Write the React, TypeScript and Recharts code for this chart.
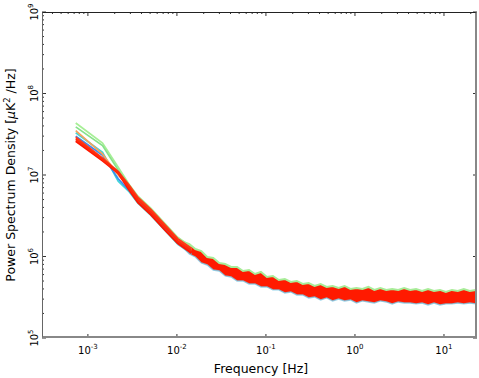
import React from 'react'
import { ComposedChart, Line, Area, XAxis, YAxis, Label } from 'recharts'

// frequencies of the low-frequency points (Hz)
const lineFreqs = [0.00073, 0.00146, 0.00219, 0.00292, 0.00365, 0.00511, 0.0073, 0.0102, 0.0146]

// individual spectra at low frequency (uK^2/Hz)
const lightGreen = [4.35e7, 2.47e7, 1.25e7, 7.6e6, 5.5e6, 3.9e6, 2.55e6, 1.72e6, 1.3e6]
const green = [3.9e7, 2.3e7, 1.15e7, 7.2e6, 5.2e6, 3.7e6, 2.45e6, 1.65e6, 1.25e6]
const cyan = [3.3e7, 1.9e7, 8.4e6, 6.2e6, 4.5e6, 3.2e6, 2.1e6, 1.42e6, 1.08e6]
const blue = [3.0e7, 1.75e7, 9.0e6, 6.4e6, 4.7e6, 3.35e6, 2.2e6, 1.47e6, 1.1e6]
const orange = [3.5e7, 1.8e7, 1.0e7, 7.0e6, 5.1e6, 3.6e6, 2.35e6, 1.6e6, 1.2e6]
const red1 = [2.9e7, 1.6e7, 1.1e7, 7.4e6, 5.3e6, 3.75e6, 2.45e6, 1.65e6, 1.25e6]
const red2 = [2.6e7, 1.5e7, 1.05e7, 6.5e6, 4.6e6, 3.25e6, 2.12e6, 1.45e6, 1.1e6]
const red3 = [2.75e7, 1.55e7, 1.08e7, 6.9e6, 4.95e6, 3.5e6, 2.3e6, 1.55e6, 1.18e6]

// noisy band at higher frequencies
const bandFreqs = [
  0.01013, 0.01183, 0.0138, 0.0161, 0.0188, 0.0219, 0.0256, 0.0299, 0.0348, 0.0406,
  0.0474, 0.0553, 0.0646, 0.0754, 0.0879, 0.1026, 0.1197, 0.1396, 0.163, 0.19,
  0.222, 0.259, 0.302, 0.352, 0.412, 0.481, 0.561, 0.655, 0.764, 0.891,
  1.04, 1.213, 1.416, 1.652, 1.928, 2.25, 2.62, 3.06, 3.57, 4.17,
  4.86, 5.68, 6.62, 7.73, 9.02, 10.5, 12.3, 14.3, 16.7, 19.5, 22.8,
]
const bandHigh = [
  1.7e6, 1.506e6, 1.423e6, 1.236e6, 1.168e6, 9.86e5, 9.59e5, 8.32e5, 8.09e5, 7.44e5,
  7.44e5, 6.64e5, 6.83e5, 6.10e5, 6.46e5, 5.61e5, 5.77e5, 5.15e5, 5.30e5, 4.87e5,
  5.01e5, 4.60e5, 4.73e5, 4.35e5, 4.60e5, 4.23e5, 4.35e5, 4.11e5, 4.35e5, 4.00e5,
  4.11e5, 4.00e5, 4.23e5, 3.89e5, 4.11e5, 3.89e5, 4.00e5, 3.89e5, 4.11e5, 3.89e5,
  4.00e5, 3.78e5, 4.00e5, 3.78e5, 3.89e5, 3.67e5, 3.89e5, 3.78e5, 4.00e5, 3.78e5, 3.89e5,
]
const bandLow = [
  1.42e6, 1.271e6, 1.073e6, 9.86e5, 8.32e5, 7.87e5, 6.83e5, 6.64e5, 5.77e5, 5.61e5,
  5.01e5, 5.01e5, 4.60e5, 4.60e5, 4.23e5, 4.23e5, 3.89e5, 3.89e5, 3.57e5, 3.67e5,
  3.37e5, 3.37e5, 3.10e5, 3.19e5, 2.93e5, 3.10e5, 2.85e5, 3.01e5, 2.85e5, 2.93e5,
  2.69e5, 2.85e5, 2.77e5, 2.69e5, 2.85e5, 2.77e5, 2.62e5, 2.77e5, 2.69e5, 2.69e5,
  2.62e5, 2.69e5, 2.54e5, 2.69e5, 2.54e5, 2.62e5, 2.62e5, 2.69e5, 2.62e5, 2.69e5, 2.62e5,
]

const xDecades = [-3, -2, -1, 0, 1]
const yDecades = [5, 6, 7, 8, 9]
const minorSteps = [2, 3, 4, 5, 6, 7, 8, 9]

const xTicks = [4e-4, 5e-4, 6e-4, 7e-4, 8e-4, 9e-4]
xDecades.forEach(d => {
  xTicks.push(Math.pow(10, d))
  if (d < 1) minorSteps.forEach(m => xTicks.push(m * Math.pow(10, d)))
})
xTicks.push(20)
const yTicks: number[] = []
yDecades.forEach(d => {
  yTicks.push(Math.pow(10, d))
  if (d < 9) minorSteps.forEach(m => yTicks.push(m * Math.pow(10, d)))
})

const W = 479
const H = 378
const PL = 42
const PR = 477
const PT = 12
const PB = 338
const FONT = 'DejaVu Sans'

const isMajor = (v: number) => {
  const l = Math.log10(v)
  return Math.abs(l - Math.round(l)) < 1e-6
}

const toLine = (vals: number[]) => vals.map((v, i) => ({ f: lineFreqs[i], v }))
const bandData = bandFreqs.map((f, i) => ({ f, r: [bandLow[i], bandHigh[i]], hi: bandHigh[i], lo: bandLow[i] }))

const lineSeries = [
  { name: 'lg', data: toLine(lightGreen), color: '#a6ef95' },
  { name: 'g', data: toLine(green), color: '#86e28a' },
  { name: 'c', data: toLine(cyan), color: '#3fd6d8' },
  { name: 'b', data: toLine(blue), color: '#3b8cf0' },
  { name: 'o', data: toLine(orange), color: '#f5a35a' },
  { name: 'r1', data: toLine(red1), color: '#ff3a1a' },
  { name: 'r2', data: toLine(red2), color: '#ff1500' },
  { name: 'r3', data: toLine(red3), color: '#ff2a0a' },
]

const XTick = (props: any) => {
  const { x, payload } = props
  const v = payload.value
  const major = isMajor(v)
  const len = major ? 4 : 2
  const exp = Math.round(Math.log10(v))
  return (
    <g>
      <line x1={x} x2={x} y1={PB} y2={PB - len} stroke="#333" strokeWidth={1} />
      <line x1={x} x2={x} y1={PT} y2={PT + len} stroke="#333" strokeWidth={1} />
      {major && (
        <text x={x} y={354} textAnchor="middle" fontSize={10} fontFamily={FONT} fill="#000">
          <tspan>10</tspan>
          <tspan dy={-5} fontSize={7}>{exp < 0 ? '-' + -exp : exp}</tspan>
        </text>
      )}
    </g>
  )
}

const YTick = (props: any) => {
  const { y, payload } = props
  const v = payload.value
  const major = isMajor(v)
  const len = major ? 4 : 2
  const exp = Math.round(Math.log10(v))
  return (
    <g>
      <line x1={PL} x2={PL + len} y1={y} y2={y} stroke="#333" strokeWidth={1} />
      <line x1={PR} x2={PR - len} y1={y} y2={y} stroke="#333" strokeWidth={1} />
      {major && (
        <text x={38} y={y} transform={`rotate(-90, 38, ${y})`} textAnchor="middle" fontSize={10} fontFamily={FONT} fill="#000">
          <tspan>10</tspan>
          <tspan dy={-5} fontSize={7}>{exp}</tspan>
        </text>
      )}
    </g>
  )
}

const YTitle = () => (
  <text x={15} y={175} transform="rotate(-90, 15, 175)" textAnchor="middle" fontSize={12.5} fontFamily={FONT} fill="#000">
    <tspan>Power Spectrum Density [</tspan>
    <tspan fontStyle="italic">μ</tspan>
    <tspan>K</tspan>
    <tspan dy={-5} fontSize={8.5}>2</tspan>
    <tspan dy={5}> /Hz]</tspan>
  </text>
)

const XTitle = () => (
  <text x={261} y={373} textAnchor="middle" fontSize={12.5} fontFamily={FONT} fill="#000">
    Frequency [Hz]
  </text>
)

export default function App() {
  return (
    <div style={{ position: 'relative', width: W, height: H, background: '#fff' }}>
      <style>{'body{margin:0}'}</style>
      <ComposedChart width={W} height={H} margin={{ top: PT, right: W - PR, left: 0, bottom: 0 }}>
        <XAxis
          dataKey="f"
          type="number"
          scale="log"
          domain={[3.05e-4, 23.5]}
          allowDataOverflow
          ticks={xTicks}
          interval={0}
          tick={<XTick />}
          tickLine={false}
          axisLine={false}
          height={H - PB}
        >
          <Label content={<XTitle />} />
        </XAxis>
        <YAxis
          type="number"
          scale="log"
          domain={[1e5, 1e9]}
          allowDataOverflow
          ticks={yTicks}
          interval={0}
          tick={<YTick />}
          tickLine={false}
          axisLine={false}
          width={PL}
        >
          <Label content={<YTitle />} />
        </YAxis>
        {lineSeries.slice(0, 5).map(s => (
          <Line key={s.name} data={s.data} dataKey="v" stroke={s.color} strokeWidth={1.7} dot={false} isAnimationActive={false} />
        ))}
        <Line data={bandData} dataKey="hi" stroke="#a8ec98" strokeWidth={2} dot={false} isAnimationActive={false} />
        <Line data={bandData} dataKey="lo" stroke="#79c9e6" strokeWidth={1.4} strokeOpacity={0.8} dot={false} isAnimationActive={false} />
        <Area data={bandData} dataKey="r" stroke="none" fill="#ff1a00" fillOpacity={1} isAnimationActive={false} />
        {lineSeries.slice(5).map(s => (
          <Line key={s.name} data={s.data} dataKey="v" stroke={s.color} strokeWidth={2} dot={false} isAnimationActive={false} />
        ))}
      </ComposedChart>
      <div
        style={{
          position: 'absolute',
          left: PL,
          top: PT,
          width: PR - PL,
          height: PB - PT,
          boxSizing: 'border-box',
          borderTop: '1px solid #222',
          borderLeft: '1.5px solid #666',
          borderRight: '2px solid #888',
          borderBottom: '2px solid #888',
          pointerEvents: 'none',
        }}
      />
    </div>
  )
}
